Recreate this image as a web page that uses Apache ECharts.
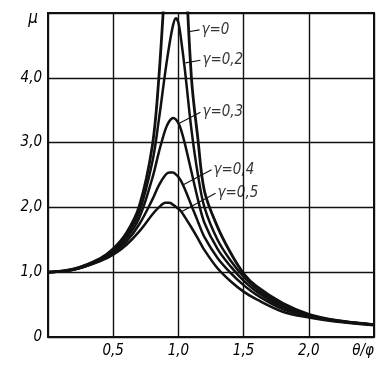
<!DOCTYPE html>
<html><head><meta charset="utf-8">
<script src="https://cdn.jsdelivr.net/npm/echarts@6/dist/echarts.min.js"></script>
<style>html,body{margin:0;padding:0;background:#fff}#c{width:391px;height:366px}</style>
</head><body><div id="c"></div>
<script>
// frequency ratio θ/φ
const xs = [0, 0.2, 0.4, 0.5, 0.6, 0.7, 0.8, 0.85, 0.9, 0.93, 0.96, 0.98, 1.0, 1.02, 1.05, 1.1, 1.15, 1.2, 1.3, 1.4, 1.5, 1.6, 1.8, 2.0, 2.2, 2.5];
// μ for each γ (null = off the chart)
const mu_g0  = [1.0, 1.05, 1.21, 1.36, 1.6, 2.02, 2.95, 4.0, 5.6, null, null, null, null, null, 6.0, 4.0, 3.05, 2.25, 1.7, 1.3, 0.98, 0.78, 0.52, 0.35, 0.26, 0.19];
const mu_g02 = [1.0, 1.05, 1.2, 1.34, 1.56, 1.93, 2.7, 3.35, 4.1, 4.5, 4.82, 4.92, 4.85, 4.6, 4.12, 3.2, 2.5, 2.0, 1.5, 1.18, 0.93, 0.74, 0.49, 0.34, 0.26, 0.19];
const mu_g03 = [1.0, 1.04, 1.19, 1.32, 1.52, 1.84, 2.45, 2.85, 3.2, 3.33, 3.38, 3.36, 3.3, 3.2, 2.98, 2.55, 2.12, 1.76, 1.36, 1.09, 0.87, 0.7, 0.46, 0.33, 0.25, 0.19];
const mu_g04 = [1.0, 1.04, 1.18, 1.3, 1.47, 1.74, 2.12, 2.34, 2.5, 2.54, 2.54, 2.51, 2.47, 2.41, 2.28, 2.03, 1.78, 1.54, 1.22, 0.99, 0.8, 0.65, 0.43, 0.32, 0.25, 0.19];
const mu_g05 = [1.0, 1.04, 1.17, 1.27, 1.42, 1.63, 1.89, 2.0, 2.07, 2.07, 2.04, 2.01, 1.98, 1.94, 1.85, 1.69, 1.52, 1.34, 1.06, 0.86, 0.7, 0.58, 0.39, 0.3, 0.24, 0.18];
const curveNames = ['γ=0', 'γ=0,2', 'γ=0,3', 'γ=0,4', 'γ=0,5'];
// tick labels
const yTickLabels = {0: '0', 1: '1,0', 2: '2,0', 3: '3,0', 4: '4,0', 5: 'μ'};
const xTickLabels = {0.5: '0,5', 1: '1,0', 1.5: '1,5', 2: '2,0'};
// annotation leaders (data coordinates): start on curve, end at label
const leaderStart = [[1.077, 4.71], [1.054, 4.23], [1.0, 3.29], [1.038, 2.35], [1.02, 1.93]];
const labelAnchor = [[1.162, 4.74], [1.169, 4.27], [1.169, 3.47], [1.254, 2.58], [1.285, 2.22]];

const FONT = "'DejaVu Sans Condensed', 'DejaVu Sans', sans-serif";
const INK = '#111';
const curves = [mu_g0, mu_g02, mu_g03, mu_g04, mu_g05];

const series = curves.map((c, i) => ({
  type: 'line',
  name: curveNames[i],
  data: xs.map((x, j) => [x, c[j] === null ? '-' : c[j]]),
  smooth: 0.35,
  symbol: 'none',
  clip: true,
  lineStyle: {color: INK, width: i === 0 ? 2.8 : 2.5},
  z: 3
}));
series[0].markLine = {
  silent: true, symbol: 'none', animation: false,
  label: {show: false},
  lineStyle: {color: INK, width: 1.1, type: 'solid'},
  data: leaderStart.map((s, i) => [{coord: s}, {coord: labelAnchor[i]}])
};
series.push({
  type: 'scatter',
  data: labelAnchor.map((p, i) => ({value: p, name: curveNames[i]})),
  symbolSize: 0,
  z: 5,
  label: {show: true, position: 'right', distance: 2, formatter: '{b}',
    color: '#000', fontSize: 15, fontStyle: 'italic', fontFamily: FONT}
});

const chart = echarts.init(document.getElementById('c'));
chart.setOption({
  animation: false,
  backgroundColor: '#fff',
  grid: {left: 48, right: 17, top: 13, bottom: 29, show: true, borderColor: INK, borderWidth: 2, backgroundColor: 'transparent'},
  xAxis: {
    type: 'value', min: 0, max: 2.5, interval: 0.5,
    axisLine: {show: true, lineStyle: {color: INK, width: 2}},
    axisTick: {show: false},
    splitLine: {show: true, lineStyle: {color: INK, width: 1.4}},
    axisLabel: {
      margin: 7, color: '#000', fontSize: 15, fontStyle: 'italic', fontFamily: FONT,
      formatter: v => xTickLabels[v] || ''
    },
    name: 'θ/φ', nameLocation: 'end', nameGap: 0,
    nameTextStyle: {color: '#000', fontSize: 15, fontStyle: 'italic', fontFamily: FONT,
      align: 'right', verticalAlign: 'top', padding: [7, 0, 0, 0]}
  },
  yAxis: {
    type: 'value', min: 0, max: 5, interval: 1,
    axisLine: {show: true, lineStyle: {color: INK, width: 2}},
    axisTick: {show: false},
    splitLine: {show: true, lineStyle: {color: INK, width: 1.4}},
    axisLabel: {
      margin: 6, color: '#000', fontSize: 15, fontStyle: 'italic', fontFamily: FONT,
      formatter: v => v === 5 ? '{m|μ}' : (yTickLabels[v] !== undefined ? yTickLabels[v] : ''),
      rich: {m: {fontSize: 17, fontStyle: 'italic', fontFamily: FONT, color: '#000', padding: [12, 4, 0, 0]}}
    }
  },
  series: series
});
</script>
</body></html>
